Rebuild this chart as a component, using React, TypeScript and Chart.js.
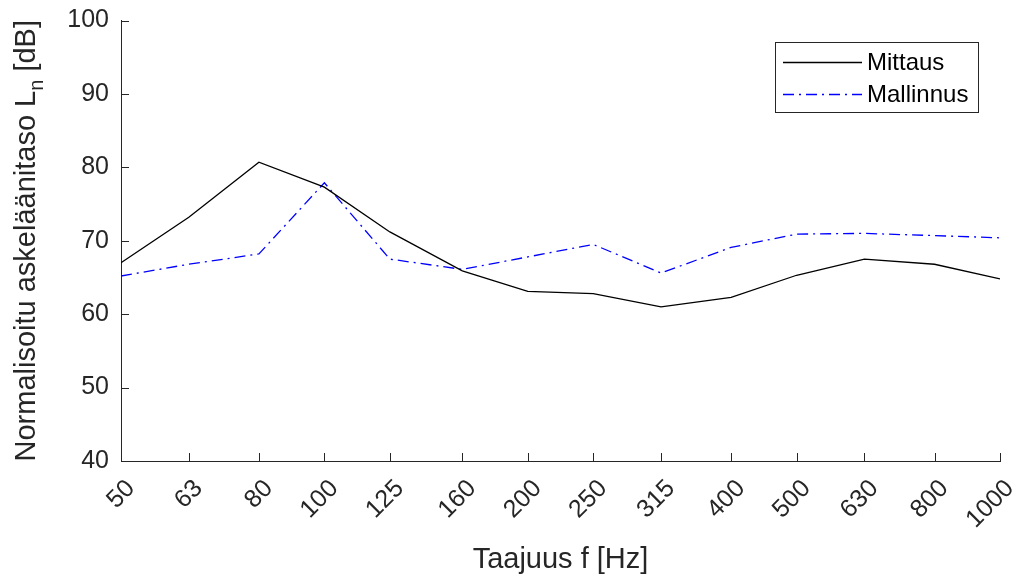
import React, { useEffect, useRef } from 'react';
import { Chart, registerables } from 'chart.js';

Chart.register(...registerables);

// Third-octave band centre frequencies (Hz)
const frequencies = [50, 63, 80, 100, 125, 160, 200, 250, 315, 400, 500, 630, 800, 1000];
// Normalised impact sound pressure level L_n (dB)
const mittaus = [67.0, 73.2, 80.7, 77.3, 71.2, 65.9, 63.1, 62.8, 61.0, 62.3, 65.3, 67.5, 66.8, 64.8];
const mallinnus = [65.2, 66.8, 68.2, 77.9, 67.5, 66.1, 67.8, 69.5, 65.6, 69.1, 70.9, 71.0, 70.7, 70.4];
const yTicks = [40, 50, 60, 70, 80, 90, 100];

const seriesNames = ['Mittaus', 'Mallinnus'];
const xTitle = 'Taajuus f [Hz]';
const yTitleMain = 'Normalisoitu askeläänitaso L';
const yTitleSub = 'n';
const yTitleTail = ' [dB]';

const AXIS_COLOR = '#262626';
const FONT = '"Liberation Sans", Arial, Helvetica, sans-serif';
const DASH_DOT = [11, 5, 2, 5];

const matlabDecor = {
  id: 'matlabDecor',
  afterDraw(chart: any) {
    const { ctx, chartArea } = chart;
    const xs = chart.scales.x;
    const ys = chart.scales.y;
    const tick = 8;
    ctx.save();
    ctx.strokeStyle = AXIS_COLOR;
    ctx.lineWidth = 1;
    // inward tick marks
    ctx.beginPath();
    for (const f of frequencies) {
      const px = Math.round(xs.getPixelForValue(f)) + 0.5;
      ctx.moveTo(px, chartArea.bottom);
      ctx.lineTo(px, chartArea.bottom - tick);
    }
    for (const v of yTicks) {
      const py = Math.round(ys.getPixelForValue(v)) + 0.5;
      ctx.moveTo(chartArea.left, py);
      ctx.lineTo(chartArea.left + tick, py);
    }
    ctx.stroke();

    // axis titles
    ctx.fillStyle = AXIS_COLOR;
    ctx.font = `29px ${FONT}`;
    ctx.textAlign = 'center';
    ctx.textBaseline = 'middle';
    ctx.fillText(xTitle, (chartArea.left + chartArea.right) / 2, 560);

    ctx.save();
    ctx.translate(27, (chartArea.top + chartArea.bottom) / 2);
    ctx.rotate(-Math.PI / 2);
    const mainFont = `29px ${FONT}`;
    const subFont = `20px ${FONT}`;
    ctx.font = mainFont;
    const wMain = ctx.measureText(yTitleMain).width;
    const wTail = ctx.measureText(yTitleTail).width;
    ctx.font = subFont;
    const wSub = ctx.measureText(yTitleSub).width;
    const total = wMain + wSub + wTail;
    let x0 = -total / 2;
    ctx.textAlign = 'left';
    ctx.textBaseline = 'middle';
    ctx.font = mainFont;
    ctx.fillText(yTitleMain, x0, 0);
    x0 += wMain;
    ctx.font = subFont;
    ctx.fillText(yTitleSub, x0, 10);
    x0 += wSub;
    ctx.font = mainFont;
    ctx.fillText(yTitleTail, x0, 0);
    ctx.restore();

    // legend
    const bx = 775.5, by = 42.5, bw = 203, bh = 70;
    ctx.fillStyle = '#ffffff';
    ctx.fillRect(bx, by, bw, bh);
    ctx.strokeStyle = AXIS_COLOR;
    ctx.lineWidth = 1;
    ctx.strokeRect(bx, by, bw, bh);
    const rows = [62.5, 94.5];
    chart.data.datasets.forEach((ds: any, i: number) => {
      ctx.beginPath();
      ctx.strokeStyle = ds.borderColor;
      ctx.lineWidth = ds.borderWidth;
      ctx.setLineDash(ds.borderDash || []);
      ctx.moveTo(783, rows[i]);
      ctx.lineTo(862, rows[i]);
      ctx.stroke();
      ctx.setLineDash([]);
      ctx.fillStyle = '#000000';
      ctx.font = `24px ${FONT}`;
      ctx.textAlign = 'left';
      ctx.textBaseline = 'middle';
      ctx.fillText(ds.label, 867, rows[i] + 1);
    });
    ctx.restore();
  },
};

export default function App() {
  const canvasRef = useRef<HTMLCanvasElement | null>(null);

  useEffect(() => {
    const canvas = canvasRef.current;
    if (!canvas) return;
    const chart = new Chart(canvas, {
      type: 'line',
      data: {
        datasets: [
          {
            label: seriesNames[0],
            data: frequencies.map((f, i) => ({ x: f, y: mittaus[i] })),
            borderColor: '#000000',
            borderWidth: 1.3,
            pointRadius: 0,
            tension: 0,
            fill: false,
          },
          {
            label: seriesNames[1],
            data: frequencies.map((f, i) => ({ x: f, y: mallinnus[i] })),
            borderColor: '#0000ff',
            borderWidth: 1.3,
            borderDash: DASH_DOT,
            pointRadius: 0,
            tension: 0,
            fill: false,
          },
        ],
      },
      options: {
        responsive: false,
        animation: false,
        devicePixelRatio: 1,
        layout: { padding: { left: 0, right: 20, top: 20.5, bottom: 0 } },
        plugins: {
          legend: { display: false },
          tooltip: { enabled: false },
          title: { display: false },
        },
        scales: {
          x: {
            type: 'logarithmic',
            min: 50,
            max: 1000,
            afterBuildTicks: (axis: any) => {
              axis.ticks = frequencies.map((v) => ({ value: v }));
            },
            afterFit: (scale: any) => {
              scale.height = 117;
              scale.paddingLeft = 0;
              scale.paddingRight = 0;
            },
            grid: { drawOnChartArea: false, drawTicks: false },
            border: { display: true, color: AXIS_COLOR, width: 1 },
            ticks: {
              autoSkip: false,
              minRotation: 45,
              maxRotation: 45,
              padding: 13,
              labelOffset: 10,
              color: AXIS_COLOR,
              font: { family: FONT, size: 25 },
              callback: (value: any) => String(value),
            },
          },
          y: {
            type: 'linear',
            min: 40,
            max: 100,
            afterFit: (scale: any) => {
              scale.width = 121;
              scale.paddingTop = 0;
              scale.paddingBottom = 0;
            },
            grid: { drawOnChartArea: false, drawTicks: false },
            border: { display: true, color: AXIS_COLOR, width: 1 },
            ticks: {
              stepSize: 10,
              padding: 12,
              color: AXIS_COLOR,
              font: { family: FONT, size: 25 },
            },
          },
        },
      },
      plugins: [matlabDecor],
    });
    return () => chart.destroy();
  }, []);

  return (
    <div style={{ position: 'fixed', left: 0, top: 0, width: 1020, height: 578, background: '#ffffff' }}>
      <canvas ref={canvasRef} width={1020} height={578} style={{ display: 'block' }} />
    </div>
  );
}
